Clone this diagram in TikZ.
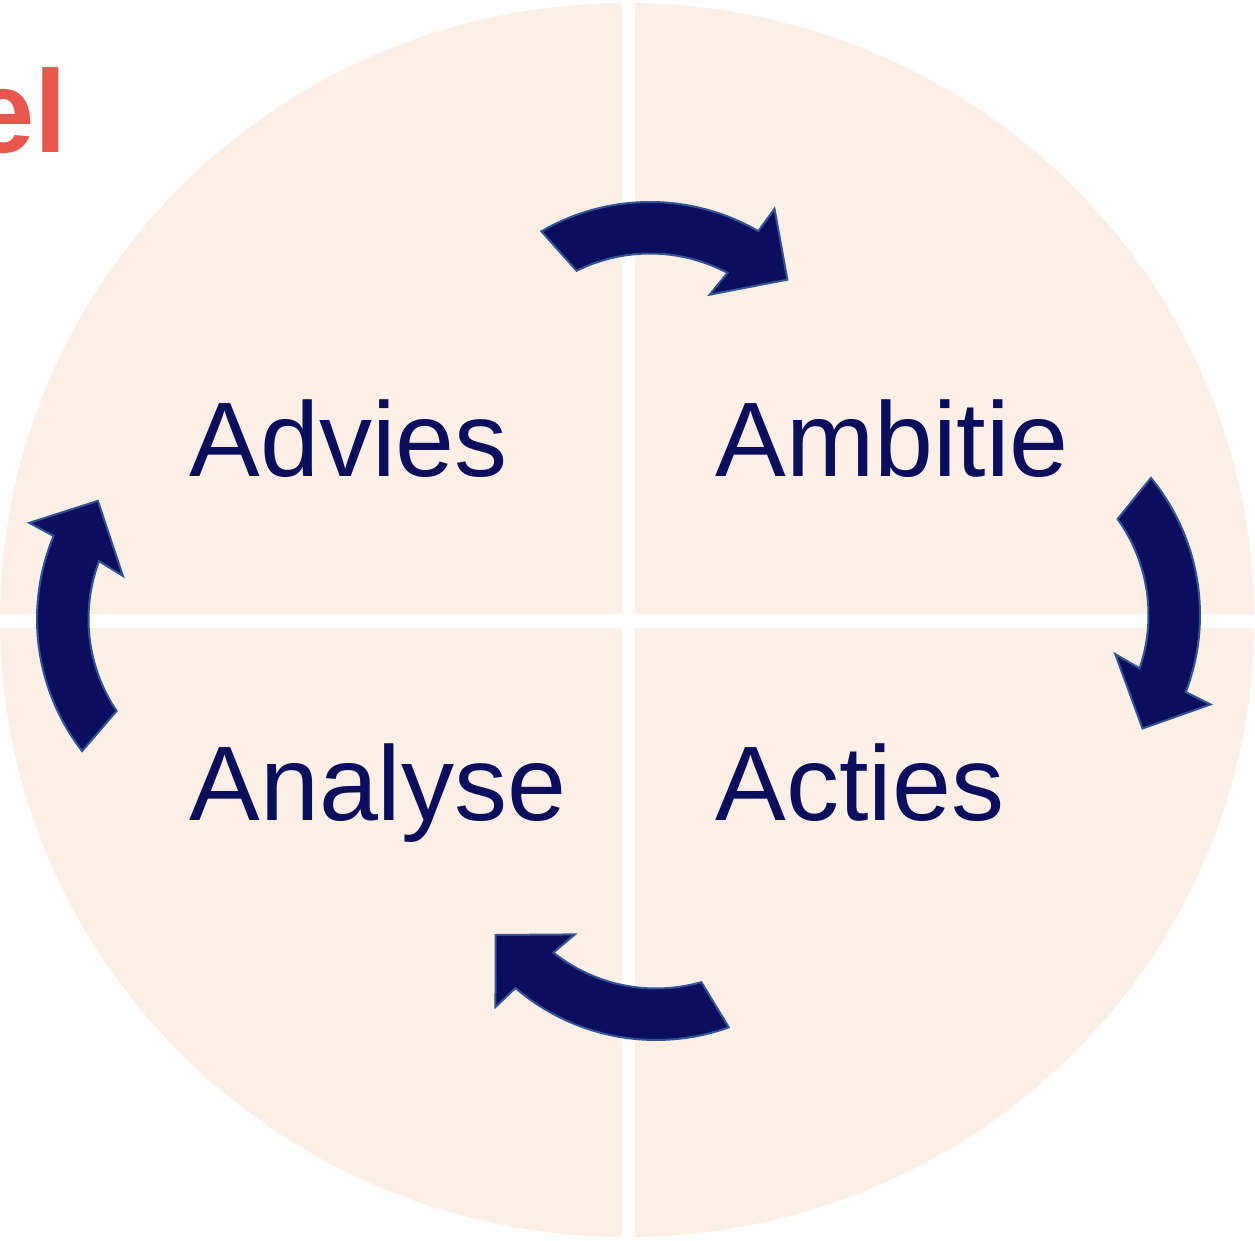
\documentclass[tikz,border=0pt]{standalone}
\usepackage{fontspec}
\setmainfont{Liberation Sans}
\definecolor{peach}{RGB}{252,239,230}
\definecolor{navy}{RGB}{11,13,94}
\definecolor{edgeblue}{RGB}{47,85,151}
\definecolor{coral}{RGB}{233,87,75}
\tikzset{
  arrowshape/.style={fill=navy, draw=edgeblue, line width=1pt, line join=miter},
  label/.style={inner sep=0pt, text=navy, font=\fontsize{53}{60}\selectfont, anchor=base west},
}
\newcommand\cyclearrow[3]{%
  \begin{scope}[shift={(#1,-#2)}]
    \draw[arrowshape] ({#3+58.3}:216) arc[start angle={#3+58.3}, end angle={#3-2}, radius=216]
      -- ({#3-2.65}:243.5) -- ({#3-16.7}:195) -- ({#3+2.3}:137) -- ({#3}:164.5)
      arc[start angle={#3}, end angle={#3+54.6}, radius=164.5] -- cycle;
  \end{scope}}
\begin{document}
\begin{tikzpicture}[x=0.5pt,y=0.5pt]
\useasboundingbox (0,0) rectangle (1255,-1241);
\fill[peach] (627,-620) ellipse [x radius=627, y radius=617];
\fill[white] (622,0) rectangle (635,-1241);
\fill[white] (0,-614) rectangle (1255,-628);
\node[inner sep=0pt, anchor=base east, text=coral, font=\fontsize{58.7}{66}\selectfont\bfseries] (title) at (68,-153) {el};
\node[label] (advies) at (189,-477) {Advies};
\node[label] (ambitie) at (715,-477) {Ambitie};
\node[label] (analyse) at (189,-820) {Analyse};
\node[label] (acties) at (715,-820) {Acties};
\cyclearrow{650}{418}{61.9}
\cyclearrow{984}{615}{-18.9}
\cyclearrow{656}{824}{-128.6}
\cyclearrow{253}{619}{159.4}
\end{tikzpicture}
\end{document}
